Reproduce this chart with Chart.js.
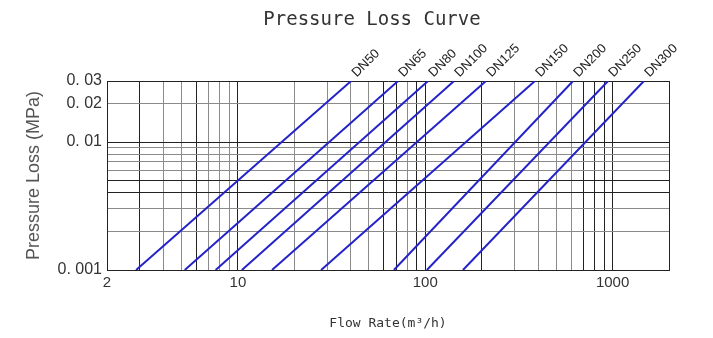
<!DOCTYPE html>
<html><head><meta charset="utf-8">
<script src="https://cdn.jsdelivr.net/npm/chart.js@4/dist/chart.umd.min.js"></script>
<style>html,body{margin:0;padding:0;background:#fff;}#wrap{width:713px;height:338px;}</style>
</head><body><div id="wrap"><canvas id="c" width="713" height="338"></canvas></div>
<script>
const chartTitle = 'Pressure Loss Curve';
const seriesNames = ['DN50','DN65','DN80','DN100','DN125','DN150','DN200','DN250','DN300'];
const flowAtMinLoss = [2.86, 5.2, 7.6, 10.5, 15.2, 27.8, 68, 102, 159];
const flowAtMaxLoss = [40.2, 71.6, 103.5, 142.5, 211, 385, 615, 946, 1470];
const lossRange = [0.001, 0.03];
const xGridValues = [2,3,4,5,6,7,8,9,10,20,30,40,50,60,70,80,90,100,200,300,400,500,600,700,800,900,1000,2000];
const xDarkValues = [2,3,6,10,60,70,90,100,200,700,800,900,1000,2000];
const xLabelValues = [2,10,100,1000];
const yGridValues = [0.001,0.002,0.003,0.004,0.005,0.006,0.007,0.008,0.009,0.01,0.02,0.03];
const yDarkValues = [0.001,0.004,0.005,0.01,0.03];
const yLabelValues = [0.001,0.01,0.02,0.03];
const yLabelTexts = ['0. 001','0. 01','0. 02','0. 03'];

const idxIn = (v, arr) => arr.findIndex(a => Math.abs(a - v) / a < 1e-6);

const datasets = seriesNames.map((name, i) => ({
  label: name,
  data: [{x: flowAtMinLoss[i], y: lossRange[0]}, {x: flowAtMaxLoss[i], y: lossRange[1]}],
  borderColor: '#2323c8',
  borderWidth: 2,
  pointRadius: 0,
  fill: false,
  tension: 0
}));

const dnLabels = {
  id: 'dnLabels',
  afterDatasetsDraw(chart) {
    const {ctx, scales: {x, y}} = chart;
    ctx.save();
    ctx.font = '13px "Liberation Sans"';
    ctx.fillStyle = '#222';
    ctx.textAlign = 'left';
    ctx.textBaseline = 'middle';
    chart.data.datasets.forEach(ds => {
      const p = ds.data[ds.data.length - 1];
      const px = x.getPixelForValue(p.x), py = y.getPixelForValue(p.y);
      ctx.save();
      ctx.translate(px + 3, py - 6);
      ctx.rotate(-Math.PI / 4);
      ctx.fillText(ds.label, 0, 0);
      ctx.restore();
    });
    ctx.restore();
  }
};

const titleDraw = {
  id: 'titleDraw',
  afterDraw(chart) {
    const {ctx} = chart;
    ctx.save();
    ctx.font = '19px "DejaVu Sans Mono"';
    ctx.fillStyle = '#333';
    ctx.textAlign = 'center';
    ctx.textBaseline = 'middle';
    ctx.fillText(chartTitle, 372, 20);
    ctx.restore();
  }
};

new Chart(document.getElementById('c'), {
  type: 'line',
  data: {datasets},
  plugins: [dnLabels, titleDraw],
  options: {
    responsive: false,
    devicePixelRatio: 1,
    animation: false,
    layout: {padding: {left: 0, right: 44, top: 81, bottom: 0}},
    plugins: {
      legend: {display: false},
      tooltip: {enabled: false},
      title: {display: false}
    },
    scales: {
      x: {
        type: 'logarithmic',
        min: 2, max: 2000,
        afterBuildTicks: s => { s.ticks = xGridValues.map(v => ({value: v})); },
        afterFit: s => { s.height = 68; },
        ticks: {
          autoSkip: false, maxRotation: 0, padding: 4, color: '#333',
          font: {family: '"Liberation Sans"', size: 15},
          callback: v => idxIn(v, xLabelValues) >= 0 ? String(v) : ''
        },
        grid: {
          drawTicks: false,
          lineWidth: 1,
          color: c => (c.tick && idxIn(c.tick.value, xDarkValues) >= 0) ? '#222' : '#8a8a8a'
        },
        border: {display: true, color: '#222'},
        title: {
          display: true, text: 'Flow Rate(m³/h)', color: '#333',
          font: {family: '"DejaVu Sans Mono"', size: 13, lineHeight: 1.2},
          padding: {top: 7, bottom: 7}
        }
      },
      y: {
        type: 'logarithmic',
        min: lossRange[0], max: lossRange[1],
        afterBuildTicks: s => { s.ticks = yGridValues.map(v => ({value: v})); },
        afterFit: s => { s.width = 107; },
        ticks: {
          autoSkip: false, padding: 5, color: '#333',
          font: {family: '"Liberation Sans"', size: 16},
          callback: v => { const k = idxIn(v, yLabelValues); return k >= 0 ? yLabelTexts[k] : ''; }
        },
        grid: {
          drawTicks: false,
          lineWidth: 1,
          color: c => (c.tick && idxIn(c.tick.value, yDarkValues) >= 0) ? '#222' : '#8a8a8a'
        },
        border: {display: true, color: '#222'},
        title: {
          display: true, text: 'Pressure Loss (MPa)', color: '#555',
          font: {family: '"Liberation Sans"', size: 18, lineHeight: 1.2},
          padding: {top: 23, bottom: 0}
        }
      }
    }
  }
});
</script></body></html>
